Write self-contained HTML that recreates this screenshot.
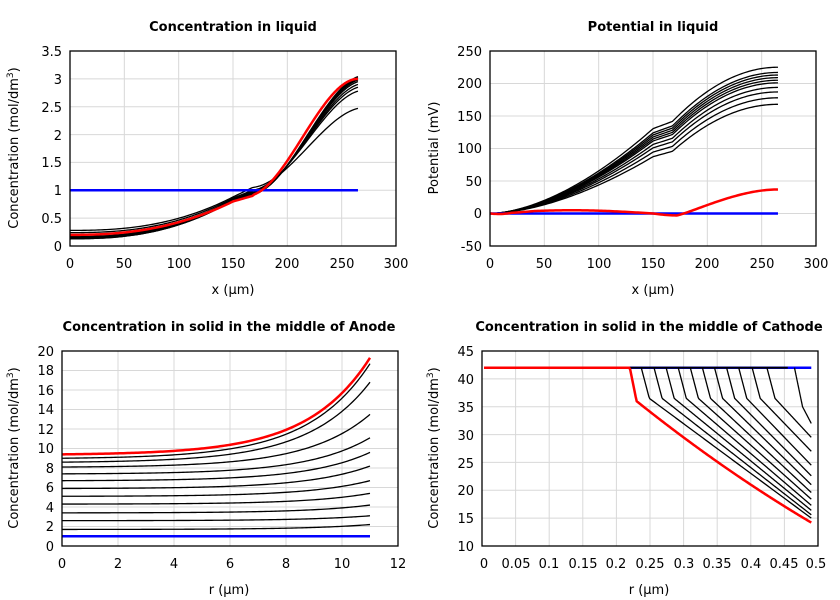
<!DOCTYPE html>
<html><head><meta charset="utf-8"><style>
body{margin:0;background:#fff;}
svg{display:block;font-family:"Liberation Sans","DejaVu Sans",sans-serif;}
.t{font-weight:bold;font-size:13px;font-family:"DejaVu Sans","Liberation Sans",sans-serif;}
.k{font-size:13px;font-family:"DejaVu Sans","Liberation Sans",sans-serif;}
.l{font-size:13px;font-family:"DejaVu Sans","Liberation Sans",sans-serif;}
</style></head><body>
<svg id="s" width="840" height="600" viewBox="0 0 840 600" xmlns="http://www.w3.org/2000/svg">
<g id="grid" stroke="#d8d8d8" stroke-width="1"></g>
<g id="curves" fill="none" stroke-linejoin="round"></g>
<g fill="none" stroke="#000" stroke-width="1.3">
<rect x="70" y="51" width="326" height="195"/>
<rect x="490" y="51" width="326" height="195"/>
<rect x="62" y="351" width="336" height="195"/>
<rect x="482" y="351" width="336" height="195"/>
</g>
<g class="t" text-anchor="middle">
<text x="233" y="31">Concentration in liquid</text>
<text x="653" y="31">Potential in liquid</text>
<text x="229" y="331">Concentration in solid in the middle of Anode</text>
<text x="649" y="331">Concentration in solid in the middle of Cathode</text>
</g>
<g class="l" text-anchor="middle">
<text x="233" y="294">x (µm)</text>
<text x="653" y="294">x (µm)</text>
<text x="229" y="594">r (µm)</text>
<text x="649" y="594">r (µm)</text>
<text transform="translate(18,148) rotate(-90)">Concentration (mol/dm<tspan dy="-5" font-size="9">3</tspan><tspan dy="5">)</tspan></text>
<text transform="translate(438,148) rotate(-90)">Potential (mV)</text>
<text transform="translate(18,448) rotate(-90)">Concentration (mol/dm<tspan dy="-5" font-size="9">3</tspan><tspan dy="5">)</tspan></text>
<text transform="translate(438,448) rotate(-90)">Concentration (mol/dm<tspan dy="-5" font-size="9">3</tspan><tspan dy="5">)</tspan></text>
</g>
<g class="k" text-anchor="end">
<text x="62" y="251">0</text><text x="62" y="223">0.5</text><text x="62" y="195">1</text><text x="62" y="167">1.5</text><text x="62" y="140">2</text><text x="62" y="112">2.5</text><text x="62" y="84">3</text><text x="62" y="56">3.5</text>
<text x="482" y="251">-50</text><text x="482" y="218">0</text><text x="482" y="186">50</text><text x="482" y="153">100</text><text x="482" y="121">150</text><text x="482" y="88">200</text><text x="482" y="56">250</text>
<text x="54" y="551">0</text><text x="54" y="531">2</text><text x="54" y="512">4</text><text x="54" y="492">6</text><text x="54" y="473">8</text><text x="54" y="453">10</text><text x="54" y="434">12</text><text x="54" y="414">14</text><text x="54" y="395">16</text><text x="54" y="375">18</text><text x="54" y="356">20</text>
<text x="474" y="551">10</text><text x="474" y="523">15</text><text x="474" y="495">20</text><text x="474" y="468">25</text><text x="474" y="440">30</text><text x="474" y="412">35</text><text x="474" y="384">40</text><text x="474" y="356">45</text>
</g>
<g class="k" text-anchor="middle">
<text x="70" y="268">0</text><text x="124" y="268">50</text><text x="179" y="268">100</text><text x="233" y="268">150</text><text x="287" y="268">200</text><text x="342" y="268">250</text><text x="396" y="268">300</text>
<text x="490" y="268">0</text><text x="544" y="268">50</text><text x="599" y="268">100</text><text x="653" y="268">150</text><text x="707" y="268">200</text><text x="762" y="268">250</text><text x="816" y="268">300</text>
<text x="62" y="568">0</text><text x="118" y="568">2</text><text x="174" y="568">4</text><text x="230" y="568">6</text><text x="286" y="568">8</text><text x="342" y="568">10</text><text x="398" y="568">12</text>
<text x="484" y="568">0</text><text x="516" y="568">0.05</text><text x="549" y="568">0.1</text><text x="583" y="568">0.15</text><text x="616" y="568">0.2</text><text x="650" y="568">0.25</text><text x="684" y="568">0.3</text><text x="717" y="568">0.35</text><text x="751" y="568">0.4</text><text x="784" y="568">0.45</text><text x="816" y="568">0.5</text>
</g>
</svg>
<script>
var NS="http://www.w3.org/2000/svg",G=document.getElementById("grid"),C=document.getElementById("curves");
function ln(x1,y1,x2,y2){var e=document.createElementNS(NS,"line");e.setAttribute("x1",x1);e.setAttribute("y1",y1);e.setAttribute("x2",x2);e.setAttribute("y2",y2);G.appendChild(e);}
function P(o){return {x:function(v){return o.x0+(v-o.a)*(o.x1-o.x0)/(o.b-o.a)},y:function(v){return o.y0-(v-o.c)*(o.y0-o.y1)/(o.d-o.c)},o:o};}
var A=P({x0:70,x1:396,a:0,b:300,y0:246,y1:51,c:0,d:3.5}),B=P({x0:490,x1:816,a:0,b:300,y0:246,y1:51,c:-50,d:250}),
Cc=P({x0:62,x1:398,a:0,b:12,y0:546,y1:351,c:0,d:20}),D=P({x0:482,x1:818,a:0,b:0.5,y0:546,y1:351,c:10,d:45});
function grid(p,xs,ys){var o=p.o;xs.forEach(function(v){var X=p.x(v);ln(X,o.y1,X,o.y0)});ys.forEach(function(v){var Y=p.y(v);ln(o.x0,Y,o.x1,Y)});}
function rng(a,b,s){var r=[];for(var v=a;v<=b+1e-9;v+=s)r.push(+v.toFixed(4));return r;}
grid(A,rng(0,300,50),rng(0,3.5,0.5));grid(B,rng(0,300,50),rng(-50,250,50));grid(Cc,rng(0,12,2),rng(0,20,2));grid(D,rng(0,0.5,0.05),rng(10,45,5));
function path(p,f,a,b,col,w,n){n=n||150;var d="";for(var i=0;i<=n;i++){var v=a+(b-a)*i/n;d+=(i?"L":"M")+p.x(v).toFixed(2)+","+p.y(f(v)).toFixed(2);}var e=document.createElementNS(NS,"path");e.setAttribute("d",d);e.setAttribute("stroke",col);e.setAttribute("stroke-width",w);C.appendChild(e);}
function ss(t){t=Math.max(0,Math.min(1,t));return t*t*(3-2*t);}
// TL
function cl(c0,m1,m2,ce){return function(x){if(x<150)return c0+(m1-c0)*Math.pow(x/150,2.5);if(x<168)return m1+(m2-m1)*(x-150)/18;return m2+(ce-m2)*ss((x-168)/97*0.92+0.02)/ss(0.94);}}
[[0.28,0.88,1.05,2.47],[0.24,0.86,1.0,2.78],[0.2,0.84,0.98,2.85],[0.17,0.83,0.96,2.9],[0.16,0.83,0.95,2.95],[0.15,0.82,0.94,2.98],[0.14,0.82,0.93,3.0],[0.13,0.82,0.93,3.02],[0.13,0.82,0.93,3.04]].forEach(function(q){path(A,cl(q[0],q[1],q[2],q[3]),0,265,"#000",1.3)});
path(A,function(x){return 1},0,265,"#0000ff",2.5,2);
path(A,function(x){if(x<150)return 0.2+0.6*Math.pow(x/150,2.4);if(x<168)return 0.8+0.1*(x-150)/18;var t=(x-168)/97;return 0.9+2.1*ss(t*0.95+0.05)/ss(1);},0,265,"#ff0000",2.5);
// TR
function g(x,s){var r=0.52+0.06*(s-168)/57;if(x<150)return r*Math.pow(x/150,1.7);if(x<168)return r+0.05*(x-150)/18;var m=r+0.05,t=(x-168)/97;return m+(1-m)*(1-(1-t)*(1-t));}
[168,178,187,194,201,205,209,213,217,225].forEach(function(s){path(B,function(x){return s*g(x,s)},0,265,"#000",1.3)});
path(B,function(x){return 0},0,265,"#0000ff",2.5,2);
path(B,function(x){if(x<150)return 5*Math.sin(Math.PI*x/150)*Math.min(1,x/40)-1*(x<20?Math.sin(Math.PI*x/20):0);if(x<172)return -3*Math.sin(Math.PI*(x-150)/44);var t=(x-172)/93;return -3+40*Math.pow(ss(t),0.6);},0,265,"#ff0000",2.5);
// BL
function h(r){var a=0.45;return (Math.exp(a*r)-1)/(Math.exp(11*a)-1);}
[[1.7,2.2],[2.6,3.1],[3.4,4.2],[4.3,5.4],[5.1,6.7],[5.9,8.2],[6.7,9.6],[7.4,11.1],[8.1,13.5],[8.6,16.8],[9.0,18.7]].forEach(function(q){path(Cc,function(r){return q[0]+(q[1]-q[0])*h(r)},0,11,"#000",1.3)});
path(Cc,function(r){return 1},0,11,"#0000ff",2.5,2);
path(Cc,function(r){return 9.4+9.9*h(r)},0,11,"#ff0000",2.5);
// BR
path(D,function(r){return 42},0.2,0.49,"#0000ff",2.5,2);
path(D,function(r){return 42},0.21,0.455,"#000",1.8,2);
var ks=[0.237,0.256,0.274,0.292,0.31,0.328,0.346,0.364,0.382,0.402,0.424,0.465],es=[15,15.6,16.4,17.3,18.4,19.6,21,22.6,24.5,27,29.5,32];
ks.forEach(function(k,i){var top=36.5-(i==11?1.5:0);path(D,function(r){if(r<k)return 42;if(r<k+0.012)return 42-(42-top)*(r-k)/0.012;var t=(r-k-0.012)/(0.49-k-0.012);return top-(top-es[i])*t;},k,0.49,"#000",1.3,200)});
path(D,function(r){if(r<0.22)return 42;if(r<0.23)return 42-6*(r-0.22)/0.01;var t=(r-0.23)/0.26;return 36-21.8*(1.15*t-0.15*t*t);},0.003,0.49,"#ff0000",2.5,300);
</script>
</body></html>
